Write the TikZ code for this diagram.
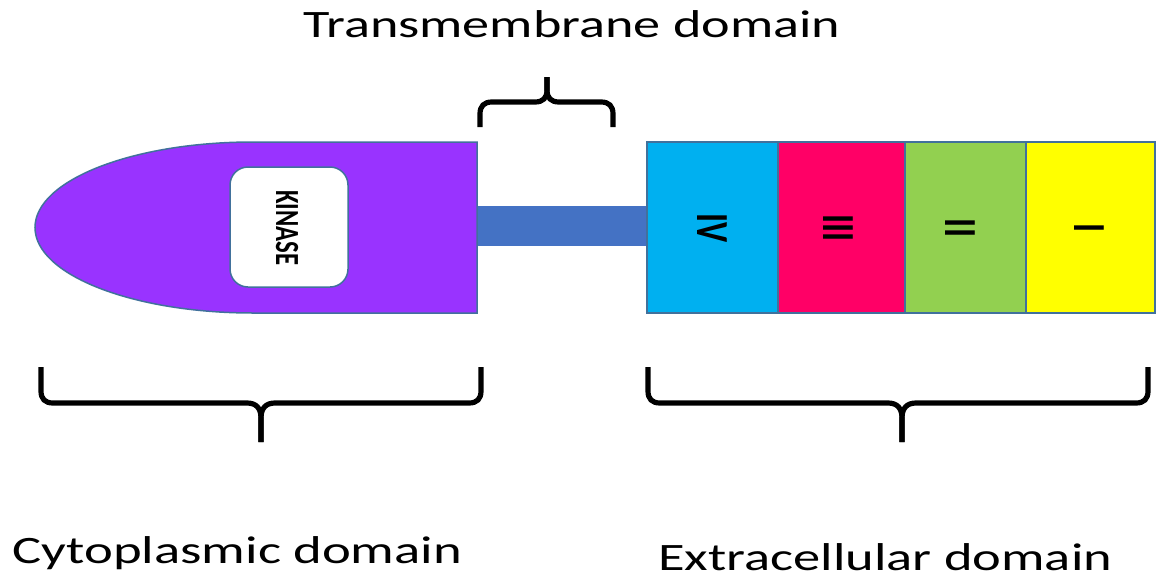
\documentclass[tikz,border=0pt]{standalone}
\usepackage{fontspec}
\setmainfont{Carlito}
\usepackage{graphicx}
\definecolor{purpC}{HTML}{9933FF}
\definecolor{barC}{HTML}{4472C4}
\definecolor{borderC}{HTML}{41719C}
\definecolor{cyanC}{HTML}{00B0F0}
\definecolor{pinkC}{HTML}{FF0066}
\definecolor{greenC}{HTML}{92D050}
\definecolor{yellowC}{HTML}{FFFF00}
\begin{document}
\begin{tikzpicture}[x=1pt,y=-1pt,
  edge/.style={draw=borderC, line width=1.5},
  brace/.style={line width=5.2, line join=round},
  lbl/.style={inner sep=0, anchor=base west, font=\fontsize{38.8}{40}\selectfont},
  num/.style={inner sep=0, rotate=-90, font=\fontsize{34}{36}\selectfont\bfseries}]
\useasboundingbox (0,0) rectangle (1157,579);
\fill[white] (0,0) rectangle (1157,579);
% transmembrane bar
\fill[barC] (470,206) rectangle (655,246);
% cytoplasmic body
\draw[edge, fill=purpC] (477,142) -- (253,142)
  arc[start angle=-90, end angle=-270, x radius=218, y radius=85.5]
  -- (477,313) -- cycle;
\node[draw=borderC, line width=1.5, fill=white, rounded corners=18,
  minimum width=118, minimum height=120, inner sep=0] (kbox) at (289,227) {};
\node[inner sep=0, rotate=-90, font=\fontsize{26}{28}\selectfont\bfseries] (kin) at (287,228)
  {\scalebox{0.95}[1.3]{KINASE}};
% extracellular segments
\draw[edge, fill=cyanC] (647,142) rectangle (778,313);
\draw[edge, fill=pinkC] (778,142) rectangle (905,313);
\draw[edge, fill=greenC] (905,142) rectangle (1026,313);
\draw[edge, fill=yellowC] (1026,142) rectangle (1155,313);
\node[num] (n4) at (712,228) {\scalebox{1}[1.35]{IV}};
\node[num] (n3) at (838,228) {\scalebox{1}[1.35]{III}};
\node[num] (n2) at (960,228) {\scalebox{1}[1.35]{II}};
\node[num] (n1) at (1089,228) {\scalebox{1}[1.35]{I}};
% braces
\draw[brace] (480,127) -- (480,114) .. controls (480,106) and (484,102) .. (492,102)
  -- (535,102) .. controls (543,102) and (547,98) .. (547,90) -- (547,77);
\draw[brace] (613,127) -- (613,114) .. controls (613,106) and (609,102) .. (601,102)
  -- (559,102) .. controls (551,102) and (547,98) .. (547,90) -- (547,77);
\draw[brace] (41,367) -- (41,391) .. controls (41,399) and (45,403) .. (53,403)
  -- (247,403) .. controls (256,403) and (261,408) .. (261,418) -- (261,442);
\draw[brace] (481,367) -- (481,391) .. controls (481,399) and (477,403) .. (469,403)
  -- (275,403) .. controls (266,403) and (261,408) .. (261,418) -- (261,442);
\draw[brace] (648,367) -- (648,391) .. controls (648,399) and (652,403) .. (660,403)
  -- (888,403) .. controls (897,403) and (902,408) .. (902,418) -- (902,442);
\draw[brace] (1148,367) -- (1148,391) .. controls (1148,399) and (1144,403) .. (1136,403)
  -- (916,403) .. controls (907,403) and (902,408) .. (902,418) -- (902,442);
% labels
\node[lbl] (tm) at (303,37) {\resizebox{537pt}{\height}{Transmembrane domain}};
\node[lbl] (cy) at (12,563) {\resizebox{450pt}{\height}{Cytoplasmic domain}};
\node[lbl] (ex) at (658,570) {\resizebox{454pt}{\height}{Extracellular domain}};
\end{tikzpicture}
\end{document}
